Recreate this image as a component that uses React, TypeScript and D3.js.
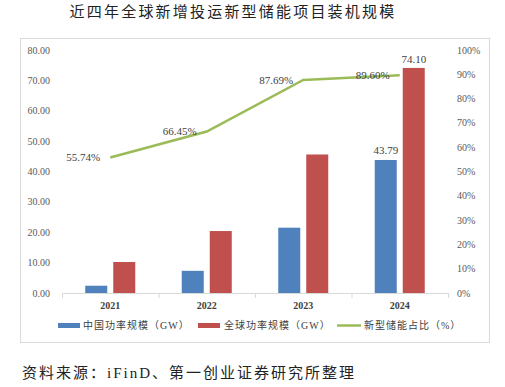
import React from 'react';
import * as d3 from 'd3';

const years = ['2021', '2022', '2023', '2024'];
const chinaGW = [2.4, 7.3, 21.5, 43.79];
const globalGW = [10.2, 20.4, 45.6, 74.1];
const sharePct = [55.74, 66.45, 87.69, 89.6];
const leftTicks = [0, 10, 20, 30, 40, 50, 60, 70, 80];
const rightTicks = [0, 10, 20, 30, 40, 50, 60, 70, 80, 90, 100];

const BLUE = '#4F81BD';
const RED = '#C0504D';
const GREEN = '#9BBB59';
const serif = '"Liberation Serif", "Noto Sans CJK SC", serif';

function App() {
    const width = 505;
    const height = 387;
    const plot = {left: 62, right: 448, top: 50, bottom: 293};

    const x = d3.scaleBand<string>().domain(years).range([plot.left, plot.right]);
    const yL = d3.scaleLinear().domain([0, 80]).range([plot.bottom, plot.top]);
    const yR = d3.scaleLinear().domain([0, 100]).range([plot.bottom, plot.top]);
    const barW = 22;
    const gap = 6;
    const cx = (y: string) => (x(y) as number) + x.bandwidth() / 2;

    const line = d3.line<number>()
        .x((d, i) => cx(years[i]))
        .y(d => yR(d));

    return (
        <svg width={width} height={height} style={{position: 'absolute', left: 0, top: 0}}>
            <rect width={width} height={height} fill="#fff"/>
            <text x={233} y={17} textAnchor="middle" fontFamily={serif} fontSize={15}
                  letterSpacing={2.2} fill="#222">近四年全球新增投运新型储能项目装机规模</text>
            <rect x={20.5} y={38.5} width={469} height={304} fill="none" stroke="#d9d9d9"/>

            {leftTicks.map(t => (
                <text key={'l' + t} x={50} y={yL(t)} dy="0.35em" textAnchor="end"
                      fontFamily={serif} fontSize={10} fill="#595959">{t.toFixed(2)}</text>
            ))}
            {rightTicks.map(t => (
                <text key={'r' + t} x={457} y={yR(t)} dy="0.35em"
                      fontFamily={serif} fontSize={10} fill="#595959">{t + '%'}</text>
            ))}

            {years.map((y, i) => (
                <g key={y}>
                    <rect x={cx(y) - gap / 2 - barW} y={yL(chinaGW[i])} width={barW}
                          height={plot.bottom - yL(chinaGW[i])} fill={BLUE}/>
                    <rect x={cx(y) + gap / 2} y={yL(globalGW[i])} width={barW}
                          height={plot.bottom - yL(globalGW[i])} fill={RED}/>
                    <text x={cx(y)} y={309} textAnchor="middle" fontFamily={serif} fontSize={10}
                          fontWeight="bold" fill="#404040">{y}</text>
                </g>
            ))}
            <text x={cx('2024') - gap / 2 - barW / 2} y={yL(chinaGW[3]) - 6} textAnchor="middle"
                  fontFamily={serif} fontSize={11} fill="#404040">{chinaGW[3].toFixed(2)}</text>
            <text x={cx('2024') + gap / 2 + barW / 2} y={yL(globalGW[3]) - 5} textAnchor="middle"
                  fontFamily={serif} fontSize={11} fill="#404040">{globalGW[3].toFixed(2)}</text>

            <line x1={plot.left} x2={plot.right} y1={plot.bottom + 0.5} y2={plot.bottom + 0.5} stroke="#d9d9d9"/>
            {[...years.map(y => x(y) as number), plot.right].map((t, i) => (
                <line key={'t' + i} x1={t + 0.5} x2={t + 0.5} y1={plot.bottom} y2={plot.bottom + 5} stroke="#d9d9d9"/>
            ))}

            <path d={line(sharePct) || ''} fill="none" stroke={GREEN} strokeWidth={2.5}/>
            {sharePct.map((p, i) => (
                <text key={'p' + i} x={cx(years[i]) - 10} y={yR(p)} dy="0.35em" textAnchor="end"
                      fontFamily={serif} fontSize={11} fill="#404040">{p.toFixed(2) + '%'}</text>
            ))}

            <rect x={58} y={323} width={22} height={5} fill={BLUE}/>
            <text x={83} y={329} fontFamily={serif} fontSize={10} letterSpacing={1} fill="#404040">中国功率规模（GW）</text>
            <rect x={198} y={323} width={22} height={5} fill={RED}/>
            <text x={224} y={329} fontFamily={serif} fontSize={10} letterSpacing={1} fill="#404040">全球功率规模（GW）</text>
            <line x1={337} x2={361} y1={325.5} y2={325.5} stroke={GREEN} strokeWidth={2.5}/>
            <text x={364} y={329} fontFamily={serif} fontSize={10} letterSpacing={1} fill="#404040">新型储能占比（%）</text>

            <text x={22} y={378} fontFamily={serif} fontSize={15} letterSpacing={2} fill="#222">资料来源：iFinD、第一创业证券研究所整理</text>
        </svg>
    );
}

export default App;
